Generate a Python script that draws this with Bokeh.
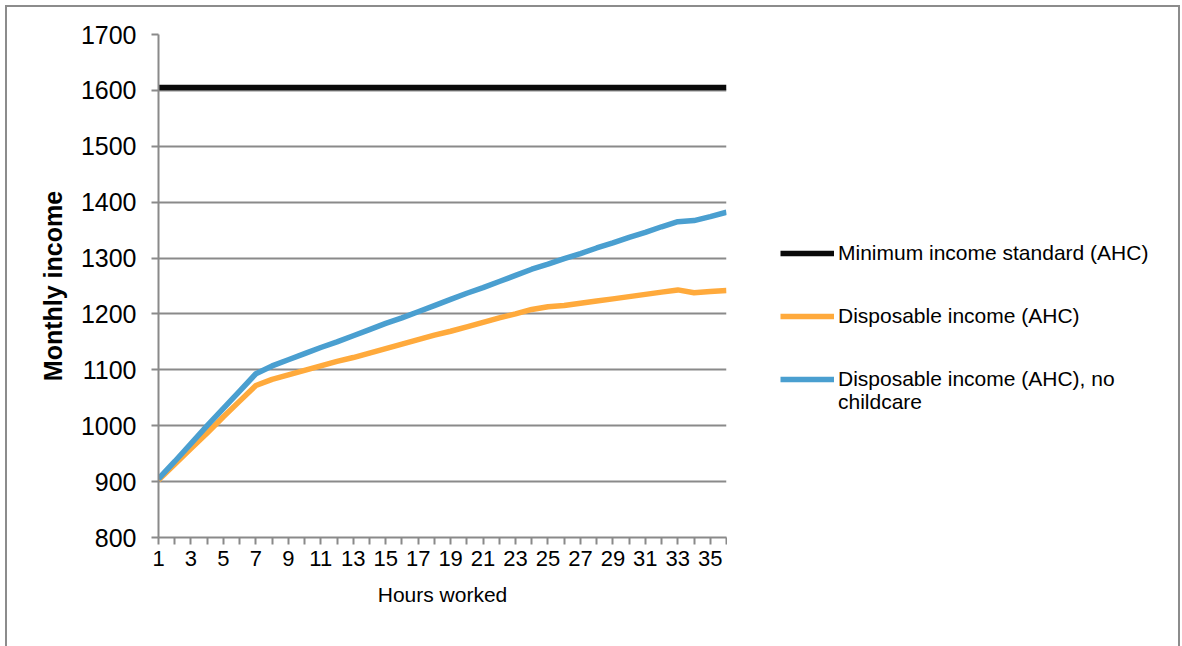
from bokeh.plotting import figure
from bokeh.layouts import row
from bokeh.models import Range1d, FixedTicker, Legend, LegendItem
from bokeh.embed import file_html
from bokeh.resources import INLINE

# Hours worked per week (category axis)
hours = [1, 2, 3, 4, 5, 6, 7, 8, 9, 10, 11, 12, 13, 14, 15, 16, 17, 18,
         19, 20, 21, 22, 23, 24, 25, 26, 27, 28, 29, 30, 31, 32, 33, 34, 35, 36]

# Monthly income series (after housing costs)
min_income_standard = [1605, 1605, 1605, 1605, 1605, 1605, 1605, 1605, 1605,
                       1605, 1605, 1605, 1605, 1605, 1605, 1605, 1605, 1605,
                       1605, 1605, 1605, 1605, 1605, 1605, 1605, 1605, 1605,
                       1605, 1605, 1605, 1605, 1605, 1605, 1605, 1605, 1605]
disposable_income = [903, 931, 959, 987, 1016, 1044, 1072, 1083, 1091, 1099,
                     1107, 1115, 1122, 1130, 1138, 1146, 1154, 1162, 1169,
                     1177, 1185, 1193, 1200, 1208, 1213, 1215, 1219, 1223,
                     1227, 1231, 1235, 1239, 1243, 1238, 1240, 1242]
disposable_no_childcare = [905, 936, 968, 1000, 1031, 1062, 1093, 1107, 1118,
                           1129, 1140, 1150, 1161, 1172, 1183, 1193, 1204,
                           1215, 1226, 1237, 1247, 1258, 1269, 1280, 1289,
                           1299, 1308, 1318, 1327, 1337, 1346, 1356, 1365,
                           1367, 1374, 1382]

series_labels = ["Minimum income standard (AHC)",
                 "Disposable income (AHC)",
                 "Disposable income (AHC), no"]
wrapped_label = "childcare"   # second line of the third legend entry
series_colors = ["#0a0a0a", "#FFAA3C", "#4A9FD0"]
series_values = [min_income_standard, disposable_income, disposable_no_childcare]
y_ticks = [800, 900, 1000, 1100, 1200, 1300, 1400, 1500, 1600, 1700]

FONT = "Liberation Sans"
GRID = "#8a8a8a"

# main chart
p = figure(width=720, height=650, output_backend="svg", toolbar_location=None,
           x_range=Range1d(1, 36), y_range=Range1d(800, 1700),
           min_border_left=151, min_border_right=1,
           min_border_top=27, min_border_bottom=120,
           background_fill_color="white", border_fill_color="white")
p.outline_line_color = None

p.xaxis.ticker = FixedTicker(ticks=hours)
p.xaxis.major_label_overrides = {h: (str(h) if h % 2 == 1 else "") for h in hours}
p.yaxis.ticker = FixedTicker(ticks=y_ticks)
for ax in (p.xaxis[0], p.yaxis[0]):
    ax.axis_line_color = GRID
    ax.axis_line_width = 2
    ax.major_tick_line_color = GRID
    ax.major_tick_line_width = 2
    ax.major_tick_out = 7
    ax.major_tick_in = 0
    ax.minor_tick_line_color = None
    ax.major_label_text_font = FONT
    ax.major_label_text_color = "black"
    ax.axis_label_text_font = FONT
    ax.axis_label_text_color = "black"

p.xaxis.major_label_text_font_size = "22px"
p.xaxis.major_label_standoff = 6
p.xaxis.axis_label = "Hours worked"
p.xaxis.axis_label_text_font_size = "21px"
p.xaxis.axis_label_text_font_style = "normal"
p.xaxis.axis_label_standoff = 14

p.yaxis.major_label_text_font_size = "25px"
p.yaxis.major_label_standoff = 15
p.yaxis.axis_label = "Monthly income"
p.yaxis.axis_label_text_font_size = "25px"
p.yaxis.axis_label_text_font_style = "bold"
p.yaxis.axis_label_standoff = 11

p.xgrid.grid_line_color = None
p.ygrid.grid_line_color = GRID
p.ygrid.grid_line_width = 2

for vals, col in zip(series_values, series_colors):
    p.line(hours, vals, line_color=col, line_width=5.5)

# legend panel to the right of the chart; its line renderers lie outside the
# panel's view and only supply the legend swatches
pl = figure(width=451, height=650, output_backend="svg", toolbar_location=None,
            x_range=Range1d(100, 101), y_range=Range1d(0, 1),
            min_border=0, background_fill_color="white",
            border_fill_color="white")
pl.axis.visible = False
pl.grid.visible = False
pl.outline_line_color = None

items = []
for label, vals, col in zip(series_labels, series_values, series_colors):
    r = pl.line(hours, vals, line_color=col, line_width=5.5)
    items.append(LegendItem(label=label, renderers=[r]))

legend_style = dict(orientation="vertical", glyph_height=24, label_height=24,
                    padding=0, margin=0, border_line_color=None,
                    background_fill_alpha=0, label_text_font=FONT,
                    label_text_font_size="21px", label_text_color="black")

legend = Legend(items=items, location=(53, 146), glyph_width=54,
                label_standoff=4, spacing=39, **legend_style)
pl.add_layout(legend, "center")

# wrapped continuation of the third entry, without a swatch
legend_wrap = Legend(items=[LegendItem(label=wrapped_label,
                                       renderers=[items[2].renderers[0]])],
                     location=(111, 123), glyph_width=0, label_standoff=0,
                     spacing=0, **legend_style)
pl.add_layout(legend_wrap, "center")

# whole chart sits inside a thin grey frame
layout = row(p, pl)
layout.margin = (5, 0, 0, 5)
layout.styles = {"border": "2px solid #8c8c8c"}

open("out.html", "w").write(file_html(layout, INLINE))
